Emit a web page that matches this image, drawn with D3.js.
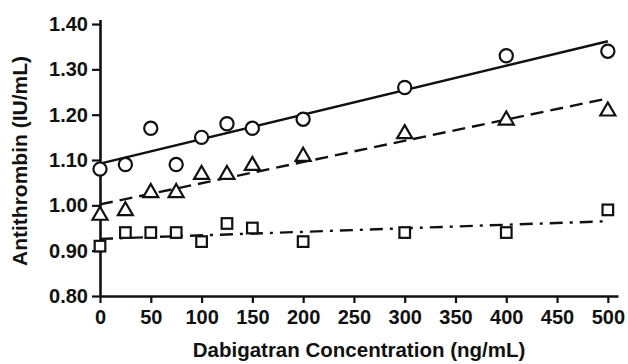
<!DOCTYPE html>
<html>
<head>
<meta charset="utf-8">
<script src="https://cdn.jsdelivr.net/npm/d3@7"></script>
<style>
  body { margin: 0; background: #fff; }
  svg { display: block; }
  text { font-family: "Liberation Sans", Arial, Helvetica, sans-serif; font-weight: bold; fill: #111; }
</style>
</head>
<body>
<div id="canvas"></div>
<script>
// concentrations (ng/mL)
var conc = [0, 25, 50, 75, 100, 125, 150, 200, 300, 400, 500];
// antithrombin values per series
var circles   = [1.08, 1.09, 1.17, 1.09, 1.15, 1.18, 1.17, 1.19, 1.26, 1.33, 1.34];
var triangles = [0.98, 0.99, 1.03, 1.03, 1.07, 1.07, 1.09, 1.11, 1.16, 1.19, 1.21];
var squares   = [0.91, 0.94, 0.94, 0.94, 0.92, 0.96, 0.95, 0.92, 0.94, 0.94, 0.99];
// fitted lines: value at 0 and at 500
var fitX = [0, 500];
var fitCircles   = [1.092, 1.362];
var fitTriangles = [1.002, 1.236];
var fitSquares   = [0.926, 0.965];

var xTicks = [0, 50, 100, 150, 200, 250, 300, 350, 400, 450, 500];
var yTicks = [0.8, 0.9, 1.0, 1.1, 1.2, 1.3, 1.4];

var width = 628, height = 364;

var x = d3.scaleLinear().domain([0, 510]).range([100, 618]);
var y = d3.scaleLinear().domain([0.8, 1.41]).range([296, 19.5]);

var svg = d3.select("#canvas").append("svg")
    .attr("width", width)
    .attr("height", height);

// axes
var xAxis = svg.append("g")
    .attr("transform", "translate(0," + y(0.8) + ")")
    .call(d3.axisBottom(x).tickValues(xTicks).tickSize(7).tickSizeOuter(0).tickPadding(7));
var yAxis = svg.append("g")
    .attr("transform", "translate(" + x(0) + ",0)")
    .call(d3.axisLeft(y).tickValues(yTicks).tickSize(8).tickSizeOuter(0).tickPadding(4)
        .tickFormat(d3.format(".2f")));

[xAxis, yAxis].forEach(function(g) {
    g.select(".domain").attr("stroke", "#111").attr("stroke-width", 2.6);
    g.selectAll(".tick line").attr("stroke", "#111").attr("stroke-width", 2.2);
    g.selectAll(".tick text")
        .attr("fill", "#111")
        .style("font-size", "20px")
        .style("font-family", "'Liberation Sans', Arial, sans-serif")
        .style("font-weight", "bold");
});

// fit lines
var line = d3.line()
    .x(function(d) { return x(d[0]); })
    .y(function(d) { return y(d[1]); });

var fits = [
    { vals: fitCircles, dash: null },
    { vals: fitTriangles, dash: "13,7" },
    { vals: fitSquares, dash: "13,7,3,7" }
];

svg.selectAll("path.fit")
    .data(fits)
    .enter()
    .append("path")
    .attr("class", "fit")
    .attr("d", function(f) { return line(fitX.map(function(v, i) { return [v, f.vals[i]]; })); })
    .attr("fill", "none")
    .attr("stroke", "#111")
    .attr("stroke-width", 2.4)
    .attr("stroke-dasharray", function(f) { return f.dash; });

// markers
var markerStyle = function(sel) {
    sel.attr("fill", "#fff").attr("stroke", "#111").attr("stroke-width", 2.2);
};

svg.selectAll("rect.sq")
    .data(squares)
    .enter()
    .append("rect")
    .attr("class", "sq")
    .attr("x", function(d, i) { return x(conc[i]) - 5.3; })
    .attr("y", function(d) { return y(d) - 5.3; })
    .attr("width", 10.6)
    .attr("height", 10.6)
    .call(markerStyle);

var tri = d3.symbol().type(d3.symbolTriangle).size(98);
svg.selectAll("path.tri")
    .data(triangles)
    .enter()
    .append("path")
    .attr("class", "tri")
    .attr("d", tri)
    .attr("transform", function(d, i) { return "translate(" + x(conc[i]) + "," + (y(d) + 1) + ")"; })
    .call(markerStyle);

svg.selectAll("circle.ci")
    .data(circles)
    .enter()
    .append("circle")
    .attr("class", "ci")
    .attr("cx", function(d, i) { return x(conc[i]); })
    .attr("cy", function(d) { return y(d); })
    .attr("r", 6.6)
    .call(markerStyle);

// axis titles
svg.append("text")
    .attr("x", 359)
    .attr("y", 357)
    .attr("text-anchor", "middle")
    .style("font-size", "20.5px")
    .text("Dabigatran Concentration (ng/mL)");

svg.append("text")
    .attr("transform", "translate(27,161) rotate(-90)")
    .attr("text-anchor", "middle")
    .style("font-size", "21px")
    .text("Antithrombin (IU/mL)");
</script>
</body>
</html>
